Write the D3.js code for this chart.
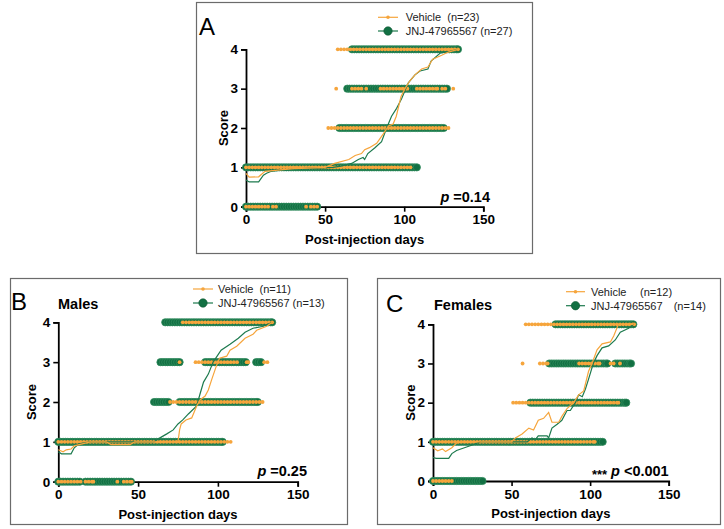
<!DOCTYPE html>
<html><head><meta charset="utf-8">
<script src="https://cdn.jsdelivr.net/npm/d3@7"></script>
<style>
body{margin:0;background:#fff;}
svg{display:block;font-family:Arial,"Liberation Sans",sans-serif;}
</style></head>
<body>
<svg id="chart" width="724" height="529"></svg>
<script>
// ---------- DATA ----------
const xTicks = [0, 50, 100, 150];
const yTicks = [0, 1, 2, 3, 4];
const groupNames = ["Vehicle", "JNJ-47965567"];

// observation runs: [score, firstDay, lastDay]
const vehRunsA = [[0,0,14],[0,17,19],[0,38,38],[0,41,45],[1,0,104],[2,52,128],
  [3,57,57],[3,67,73],[3,76,76],[3,85,102],[3,108,121],[3,124,126],[3,131,131],[4,58,134]];
const grnRunsA = [[0,0,45],[1,0,108],[2,59,125],[3,64,127],[4,67,134]];

const vehRunsB = [[0,0,14],[0,17,22],[0,37,37],[0,41,46],[1,0,108],[2,70,128],
  [3,76,76],[3,86,112],[3,118,119],[3,129,131],[4,78,134]];
const grnRunsB = [[0,0,14],[0,17,46],[1,0,103],[2,60,69],[2,76,125],[3,64,76],[3,92,118],[3,124,127],[4,67,134]];

const vehRunsC = [[0,0,12],[1,0,103],[2,51,118],[3,57,57],[3,68,73],[3,93,106],[3,113,115],[3,119,119],[4,59,128]];
const grnRunsC = [[0,0,32],[1,0,108],[2,62,123],[3,74,111],[3,116,126],[4,78,128]];

// mean score curves: [day, mean score]
const meanVehA = [[0,0.85],[2,0.75],[8,0.76],[12,0.9],[20,0.93],[30,0.97],[40,0.98],[50,1.0],[56,1.1],[65,1.2],[69,1.3],[73,1.35],[75,1.45],[78,1.5],[82.6,1.61],[86.8,1.85],[90,2.05],[93,2.1],[95,2.3],[98,2.8],[100.5,3.0],[103.6,3.2],[106.8,3.35],[111,3.5],[115,3.55],[118,3.75],[123.7,3.85],[127.9,3.93],[134,4.0]];
const meanGrnA = [[0,0.68],[2,0.63],[8,0.63],[11,0.8],[13,0.85],[16,0.9],[22,0.93],[25,0.92],[30,0.96],[45,0.98],[55,1.0],[60,1.03],[66.8,1.1],[71,1.2],[74,1.25],[75,1.2],[77,1.35],[81.5,1.5],[85.7,1.65],[88.9,2.0],[92,2.3],[95.2,2.5],[98.4,2.75],[102.6,3.15],[106.8,3.35],[110,3.45],[115,3.5],[117,3.7],[122.6,3.9],[129,3.95],[134,4.0]];

const meanVehB = [[0,0.8],[3,0.75],[5,0.8],[8,0.82],[10,0.9],[15,0.95],[20,1.0],[30,1.0],[33,0.93],[45,0.93],[48,1.0],[75,1.0],[76,1.3],[77,1.45],[80,1.55],[83.6,1.6],[86.7,1.9],[88.8,2.05],[92,2.15],[94,2.3],[96,2.55],[99,2.9],[101,3.1],[105.5,3.15],[107.6,3.3],[111.8,3.4],[117,3.6],[122,3.7],[124.3,3.8],[130.6,3.9],[134,4.0]];
const meanGrnB = [[0,0.75],[2,0.7],[8,0.7],[10,0.85],[13,0.95],[20,1.0],[60,1.0],[63.7,1.1],[68,1.2],[72,1.3],[75,1.45],[78,1.55],[81.5,1.7],[86.7,1.9],[88.8,2.2],[91,2.5],[94,2.7],[97,3.0],[102,3.3],[107.6,3.45],[112.8,3.6],[117,3.75],[122,3.85],[128.5,3.9],[134,4.0]];

const meanVehC = [[0,0.85],[3,0.77],[6,0.82],[8,0.75],[12,0.85],[15,0.97],[20,1.0],[50,1.0],[52.4,1.1],[56.7,1.2],[61,1.35],[64,1.3],[67,1.55],[70.4,1.6],[73.6,1.75],[75.7,1.5],[80,1.5],[82,1.65],[85.3,1.85],[89.5,2.0],[92.7,2.2],[95.9,2.3],[99,2.8],[101.2,3.0],[104.4,3.35],[107.6,3.5],[112.9,3.55],[115,3.7],[118,4.0],[127.7,4.0]];
const meanGrnC = [[0,0.6],[2,0.58],[10,0.58],[12,0.7],[15,0.78],[20,0.85],[25,0.92],[30,1.0],[60,1.0],[63,1.1],[65,1.05],[67,1.15],[72.6,1.15],[73.6,1.1],[75.7,1.35],[79,1.45],[82,1.55],[85.3,1.8],[87.4,1.8],[90.6,2.0],[92.7,2.2],[95,2.15],[97,2.35],[99,2.6],[102,3.0],[104.4,3.2],[107.6,3.4],[111.8,3.45],[116,3.6],[119.2,3.8],[124.5,3.9],[127.7,4.0]];

const panelLetters = ["A", "B", "C"];
const panelTitles = ["", "Males", "Females"];
const nVeh = [23, 11, 12];
const nGrn = [27, 13, 14];
const pTexts = ["=0.14", "=0.25", "<0.001"];
const sigStars = ["", "", "***"];

// ---------- STYLE / LAYOUT ----------
const ORANGE = "#f6a53c", GREEN = "#127043", GREEN_DARK = "#0a5530";
const layouts = [
  {box:[196,2,532,253], x0:246, x1:483.3, y0:206.7, y4:49.3, letterX:199, letterY:35, titleX:0, titleY:0,
   legX1:378, legX2:398, legY1:17.3, legY2:31, legTX:405.7, nX:null, pX:490, pY:201.5, scoreX:223},
  {box:[10,278,347,524], x0:58.3, x1:297.7, y0:481.7, y4:322.3, letterX:11, letterY:310, titleX:58, titleY:309,
   legX1:193, legX2:213, legY1:289, legY2:303, legTX:218, nX:null, pX:307, pY:475.7, scoreX:31.7},
  {box:[377,278,720,524], x0:433, x1:668.7, y0:481, y4:324.3, letterX:386, letterY:312, titleX:434, titleY:310,
   legX1:566, legX2:585, legY1:291.7, legY2:305.7, legTX:591, nX:[640,673.7], pX:668.7, pY:475.7, scoreX:410.3, starsX:592}
];
const panelData = [
  {veh:vehRunsA, grn:grnRunsA, mVeh:meanVehA, mGrn:meanGrnA},
  {veh:vehRunsB, grn:grnRunsB, mVeh:meanVehB, mGrn:meanGrnB},
  {veh:vehRunsC, grn:grnRunsC, mVeh:meanVehC, mGrn:meanGrnC}
];

const svg = d3.select("#chart");

function expandRuns(runs, step){
  const pts = [];
  runs.forEach(([s,a,b]) => {
    d3.range(a, b + 0.001, step).forEach(d => pts.push([d, s]));
    if ((b - a) % step > 0.5) pts.push([b, s]);
  });
  return pts;
}

panelData.forEach((pd, i) => {
  const L = layouts[i];
  const g = svg.append("g");
  // frame
  g.append("rect").attr("x", L.box[0]+0.5).attr("y", L.box[1]+0.5)
    .attr("width", L.box[2]-L.box[0]).attr("height", L.box[3]-L.box[1])
    .attr("fill", "none").attr("stroke", "#6b6b6b").attr("stroke-width", 1.2);

  const x = d3.scaleLinear().domain([0,150]).range([L.x0, L.x1]);
  const y = d3.scaleLinear().domain([0,4]).range([L.y0, L.y4]);

  // axes
  const xa = g.append("g").attr("transform", `translate(0,${L.y0})`)
    .call(d3.axisBottom(x).tickValues(xTicks).tickSize(5).tickPadding(3).tickFormat(d3.format("d")));
  const ya = g.append("g").attr("transform", `translate(${L.x0},0)`)
    .call(d3.axisLeft(y).tickValues(yTicks).tickSize(5).tickPadding(3).tickFormat(d3.format("d")));
  [xa, ya].forEach(a => {
    a.select(".domain").attr("stroke", "#000").attr("stroke-width", 1.8);
    a.selectAll(".tick line").attr("stroke", "#000").attr("stroke-width", 1.6);
    a.selectAll(".tick text").attr("fill", "#000").style("font-size", "13.5px").style("font-weight", "bold")
      .style("font-family", 'Arial,"Liberation Sans",sans-serif');
  });

  // dots
  const grnPts = expandRuns(pd.grn, 1.5);
  const vehPts = expandRuns(pd.veh, 2);
  g.append("g").selectAll("circle").data(grnPts).join("circle")
    .attr("cx", d => x(d[0])).attr("cy", d => y(d[1])).attr("r", 3.6)
    .attr("fill", GREEN).attr("stroke", "#2f8a5c").attr("stroke-width", 0.8);
  g.append("g").selectAll("circle").data(vehPts).join("circle")
    .attr("cx", d => x(d[0])).attr("cy", d => y(d[1])).attr("r", 1.9)
    .attr("fill", ORANGE);

  // mean lines
  const line = d3.line().x(d => x(d[0])).y(d => y(d[1]));
  g.append("path").datum(pd.mGrn).attr("d", line).attr("fill", "none")
    .attr("stroke", "#1d7a4e").attr("stroke-width", 1.2);
  g.append("path").datum(pd.mVeh).attr("d", line).attr("fill", "none")
    .attr("stroke", ORANGE).attr("stroke-width", 1.2);

  // axis titles
  g.append("text").attr("x", (L.x0+L.x1)/2).attr("y", L.y0+37).attr("text-anchor", "middle")
    .style("font-size", "13px").style("font-weight", "bold").text("Post-injection days");
  g.append("text").attr("transform", `translate(${L.scoreX + 4.5},${(L.y0+L.y4)/2}) rotate(-90)`)
    .attr("text-anchor", "middle").style("font-size", "13px").style("font-weight", "bold").text("Score");

  // panel letter and title
  g.append("text").attr("x", L.letterX).attr("y", L.letterY).style("font-size", "24px").text(panelLetters[i]);
  if (panelTitles[i]) g.append("text").attr("x", L.titleX).attr("y", L.titleY)
    .style("font-size", "14.5px").style("font-weight", "bold").text(panelTitles[i]);

  // legend
  const lg = g.append("g");
  lg.append("line").attr("x1", L.legX1).attr("x2", L.legX2).attr("y1", L.legY1).attr("y2", L.legY1)
    .attr("stroke", ORANGE).attr("stroke-width", 1.2);
  lg.append("circle").attr("cx", (L.legX1+L.legX2)/2).attr("cy", L.legY1).attr("r", 1.8).attr("fill", ORANGE);
  lg.append("line").attr("x1", L.legX1).attr("x2", L.legX2).attr("y1", L.legY2).attr("y2", L.legY2)
    .attr("stroke", "#1d7a4e").attr("stroke-width", 1.2);
  lg.append("circle").attr("cx", (L.legX1+L.legX2)/2).attr("cy", L.legY2).attr("r", 4.2)
    .attr("fill", GREEN).attr("stroke", GREEN_DARK).attr("stroke-width", 0.6);
  const tStyle = s => s.style("font-size", "11px").attr("fill", "#222").attr("dominant-baseline", "central");
  if (L.nX) {
    lg.append("text").attr("x", L.legTX).attr("y", L.legY1).call(tStyle).text(groupNames[0]);
    lg.append("text").attr("x", L.nX[0]).attr("y", L.legY1).call(tStyle).text(`(n=${nVeh[i]})`);
    lg.append("text").attr("x", L.legTX).attr("y", L.legY2).call(tStyle).text(groupNames[1]);
    lg.append("text").attr("x", L.nX[1]).attr("y", L.legY2).call(tStyle).text(`(n=${nGrn[i]})`);
  } else {
    lg.append("text").attr("x", L.legTX).attr("y", L.legY1).call(tStyle)
      .text(`${groupNames[0]}\u00a0\u00a0(n=${nVeh[i]})`);
    lg.append("text").attr("x", L.legTX).attr("y", L.legY2).call(tStyle)
      .text(`${groupNames[1]} (n=${nGrn[i]})`);
  }

  // p value
  const pt = g.append("text").attr("x", L.pX).attr("y", L.pY).attr("text-anchor", "end")
    .style("font-size", "14.5px").style("font-weight", "bold");
  pt.append("tspan").style("font-style", "italic").text("p");
  pt.append("tspan").text("\u00a0" + pTexts[i]);
  if (sigStars[i]) g.append("text").attr("x", L.starsX).attr("y", L.pY + 3)
    .style("font-size", "13px").style("font-weight", "bold").text(sigStars[i]);
});
</script>
</body></html>
